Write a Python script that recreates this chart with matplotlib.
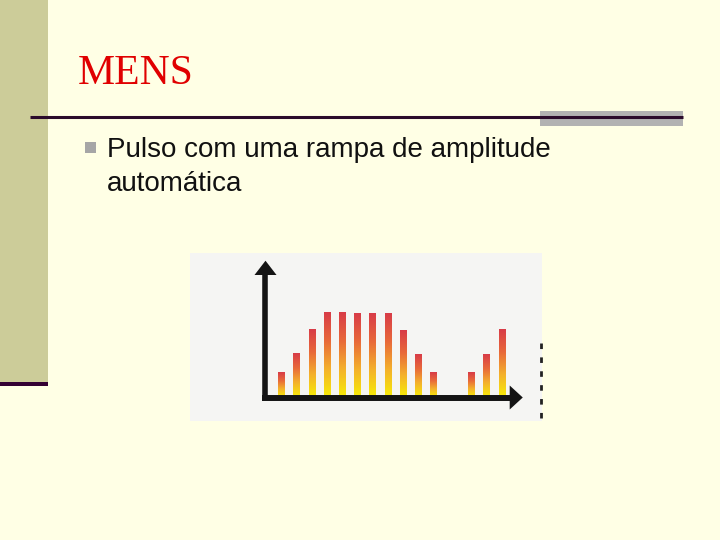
import numpy as np
import matplotlib.pyplot as plt
from matplotlib.patches import Rectangle, Polygon
from matplotlib.colors import LinearSegmentedColormap

# pulsos MENS: instante e amplitude
pulse_t = [0, 1, 2, 3, 4, 5, 6, 7, 8, 9, 10, 12.5, 13.5, 14.5]
pulse_amp = [25, 44, 68, 85, 85, 84, 84, 84, 67, 43, 25, 25, 43, 68]

title = "MENS"
bullet_lines = ["Pulso com uma rampa de amplitude", "automática"]

W, H = 720, 540
fig = plt.figure(figsize=(7.2, 5.4), dpi=100, facecolor='#ffffe5')

# fundo do slide em pixels
bg = fig.add_axes([0, 0, 1, 1])
bg.set_xlim(0, W)
bg.set_ylim(H, 0)
bg.axis('off')

bg.add_patch(Rectangle((0, 0), 48, 382, color='#cccc99', lw=0))
bg.add_patch(Rectangle((0, 382), 48, 4, color='#330033', lw=0))
bg.add_patch(Rectangle((540, 111), 143, 15, color='#b2b2b2', lw=0))
bg.plot([30, 683], [117, 117], color='#2b0b2b', lw=2.2, solid_capstyle='butt')

bg.text(78, 84, title, family='Liberation Serif', size=30, color='#e00000', va='baseline')
bg.add_patch(Rectangle((85, 142), 11, 11, color='#a6a6a6', lw=0))
bg.text(107, 157, bullet_lines[0], family='Liberation Sans', size=20, va='baseline', color='#111111')
bg.text(107, 191, bullet_lines[1], family='Liberation Sans', size=20, va='baseline', color='#111111')

# imagem do grafico
bg.add_patch(Rectangle((190, 253), 352, 168, color='#f5f5f3', lw=0))
bg.plot([541, 541], [343, 418], color='#222222', lw=2, ls=(0, (2, 3)))

ax = fig.add_axes([190 / W, (H - 421) / H, 352 / W, 168 / H])
ax.axis('off')

cm = LinearSegmentedColormap.from_list('rampa', ['#f7ec08', '#f4b02c', '#e8683a', '#d83c48'])
grad = np.linspace(0, 1, 256).reshape(-1, 1)

bars = ax.bar(pulse_t, pulse_amp, width=0.46, color='none', lw=0)
for r in bars:
    x0, w, h = r.get_x(), r.get_width(), r.get_height()
    ax.imshow(grad, cmap=cm, aspect='auto', origin='lower',
              extent=(x0, x0 + w, 0, h), clip_path=r, zorder=2)

# eixos com setas
ax.plot([-1.066, -1.066], [-2, 123], color='#141414', lw=4, solid_capstyle='butt', zorder=3)
ax.add_patch(Polygon([(-1.79, 122), (-0.34, 122), (-1.066, 136.3)], color='#141414', lw=0, zorder=3))
ax.plot([-1.3, 15.05], [-0.5, -0.5], color='#141414', lw=4.3, solid_capstyle='butt', zorder=3)
ax.add_patch(Polygon([(15.0, -12.5), (15.0, 11.5), (15.86, -0.5)], color='#141414', lw=0, zorder=3))

ax.set_xlim(-6.033, 17.125)
ax.set_ylim(-24, 144)

fig.savefig('out.png', dpi=100, facecolor=fig.get_facecolor())
